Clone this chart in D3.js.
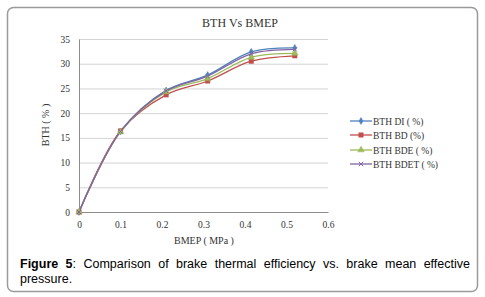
<!DOCTYPE html>
<html lang="en">
<head>
<meta charset="UTF-8">
<script src="https://d3js.org/d3.v7.min.js"></script>
<title>BTH Vs BMEP</title>
<style>
  body { margin: 0; background: #fff; }
  #wrap { position: relative; width: 485px; height: 297px; }
  .cap {
    position: absolute; left: 20px; width: 450px;
    font-family: "Liberation Sans", Arial, sans-serif; font-size: 12.5px;
    line-height: 15px; color: #000; white-space: nowrap;
  }
  #cap1 { top: 257px; text-align: justify; text-align-last: justify; }
  #cap2 { top: 272px; }
</style>
</head>
<body>
<div id="wrap">
  <svg id="chart" width="485" height="297"></svg>
  <div class="cap" id="cap1"><b>Figure 5</b><span>: Comparison of brake thermal efficiency vs. brake mean effective</span></div>
  <div class="cap" id="cap2">pressure.</div>
</div>
<script>
// data
var bmep = [0, 0.1, 0.21, 0.31, 0.415, 0.52];
var seriesNames = ["BTH DI ( %)", "BTH BD (%)", "BTH BDE ( %)", "BTH BDET ( %)"];
var bthDI   = [0, 16.3, 24.6, 27.7, 32.4, 33.2];
var bthBD   = [0, 16.4, 23.7, 26.5, 30.5, 31.6];
var bthBDE  = [0, 16.2, 24.3, 27.0, 31.3, 32.1];
var bthBDET = [0, 16.3, 24.5, 27.5, 32.0, 32.9];
var xTicks = [0, 0.1, 0.2, 0.3, 0.4, 0.5, 0.6];
var yTicks = [0, 5, 10, 15, 20, 25, 30, 35];

var colors = ["#4F81BD", "#C0504D", "#9BBB59", "#8064A2"];
var symbols = [d3.symbolDiamond, d3.symbolSquare, d3.symbolTriangle, d3.symbolX];
var allSeries = [bthDI, bthBD, bthBDE, bthBDET];

var svg = d3.select("#chart");

// frame
svg.append("rect")
  .attr("x", 7.5).attr("y", 7.5).attr("width", 470).attr("height", 284)
  .attr("rx", 6).attr("fill", "none").attr("stroke", "#9a9a9a").attr("stroke-width", 1.5);

var x = d3.scaleLinear().domain([0, 0.6]).range([79, 328]);
var y = d3.scaleLinear().domain([0, 35]).range([212, 39]);

// gridlines
svg.append("g").selectAll("line")
  .data(yTicks.slice(1))
  .enter().append("line")
  .attr("x1", x(0)).attr("x2", x(0.6))
  .attr("y1", function (d) { return y(d) + 0.5; })
  .attr("y2", function (d) { return y(d) + 0.5; })
  .attr("stroke", "#d4d4d4").attr("stroke-width", 1);

// axes
var ejeY = d3.axisLeft(y).tickValues(yTicks).tickSize(0).tickPadding(9);
var ejeX = d3.axisBottom(x).tickValues(xTicks).tickSize(0).tickPadding(9)
  .tickFormat(function (d) { return d === 0 ? "0" : d3.format(".1f")(d); });

var gy = svg.append("g").attr("transform", "translate(" + x(0) + ",0)").call(ejeY);
var gx = svg.append("g").attr("transform", "translate(0," + y(0) + ")").call(ejeX);
[gx, gy].forEach(function (g) {
  g.select(".domain").attr("stroke", "#8c8c8c");
  g.selectAll("text").attr("font-family", "Liberation Serif, serif")
    .attr("font-size", 9.5).attr("fill", "#333");
});

// titles
svg.append("text").attr("x", 240).attr("y", 27).attr("text-anchor", "middle")
  .attr("font-family", "Liberation Serif, serif").attr("font-size", 12).attr("fill", "#333")
  .text("BTH Vs BMEP");
svg.append("text").attr("x", 204).attr("y", 244).attr("text-anchor", "middle")
  .attr("font-family", "Liberation Serif, serif").attr("font-size", 10).attr("fill", "#333")
  .text("BMEP ( MPa )");
svg.append("text").attr("transform", "translate(49,125) rotate(-90)").attr("text-anchor", "middle")
  .attr("font-family", "Liberation Serif, serif").attr("font-size", 10).attr("fill", "#333")
  .text("BTH ( % )");

// lines
var line = d3.line()
  .x(function (d, i) { return x(bmep[i]); })
  .y(function (d) { return y(d); })
  .curve(d3.curveCatmullRom.alpha(0.5));

allSeries.forEach(function (s, k) {
  svg.append("path").datum(s)
    .attr("d", line).attr("fill", "none")
    .attr("stroke", colors[k]).attr("stroke-width", 1.3);
});

function marker(g, k) {
  var sizes = [14, 20, 18, 14];
  g.append("path")
    .attr("d", d3.symbol().type(symbols[k]).size(sizes[k]))
    .attr("fill", k === 3 ? "none" : colors[k])
    .attr("stroke", colors[k]).attr("stroke-width", k === 3 ? 1 : 0.5);
}

allSeries.forEach(function (s, k) {
  s.forEach(function (v, i) {
    var g = svg.append("g").attr("transform", "translate(" + x(bmep[i]) + "," + y(v) + ")");
    marker(g, k);
  });
});

// legend
var legendY = [121, 135, 150, 164];
seriesNames.forEach(function (name, k) {
  var g = svg.append("g").attr("transform", "translate(350," + legendY[k] + ")");
  g.append("line").attr("x1", 0).attr("x2", 22).attr("y1", 0).attr("y2", 0)
    .attr("stroke", colors[k]).attr("stroke-width", 1.3);
  var m = g.append("g").attr("transform", "translate(11,0)");
  marker(m, k);
  g.append("text").attr("x", 23).attr("y", 3.5)
    .attr("font-family", "Liberation Serif, serif").attr("font-size", 9.5).attr("fill", "#333")
    .text(name);
});
</script>
</body>
</html>
